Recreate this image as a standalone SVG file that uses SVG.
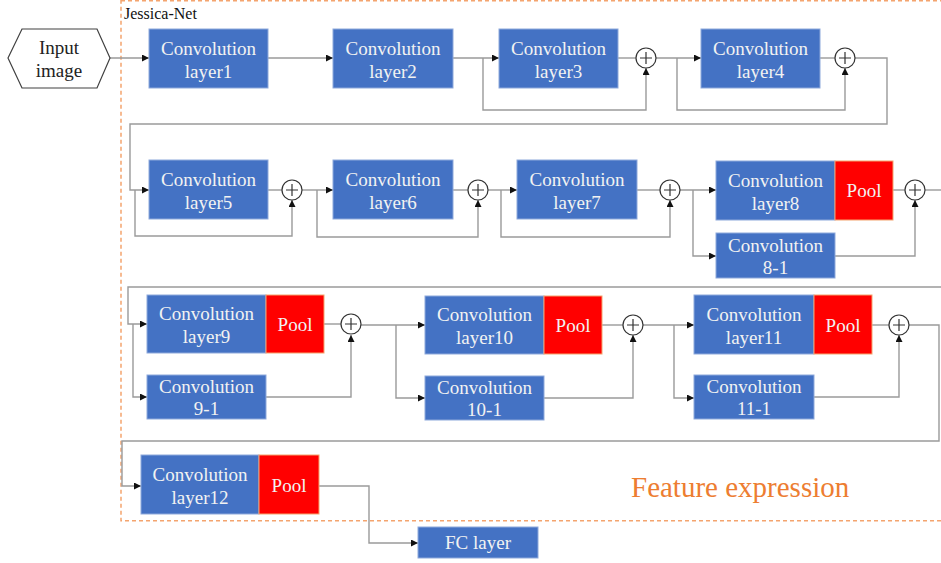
<svg xmlns="http://www.w3.org/2000/svg" width="941" height="563" viewBox="0 0 941 563">
  <style>
    .conv { fill: #4472C4; stroke: #8EA9DB; stroke-width: 1; }
    .pool { fill: #FF0000; stroke: #F4A46E; stroke-width: 1; }
    .serif { font-family: "Liberation Serif", "Times New Roman", Tinos, "DejaVu Serif", serif; }
    .lbl { font-family: "Liberation Serif", "Times New Roman", Tinos, "DejaVu Serif", serif; font-size: 19px; fill: #F2F2F2; text-anchor: middle; }
    .dark { fill: #222; }
    .wire { fill: none; stroke: #9A9A9A; stroke-width: 1.4; }
    .arr { marker-end: url(#ah); }
    .sum circle { fill: #fff; stroke: #333; stroke-width: 1.2; }
    .sum path { stroke: #333; stroke-width: 1.2; fill: none; }
  </style>
  <defs>
    <marker id="ah" viewBox="0 0 10 10" refX="10" refY="5" markerWidth="7" markerHeight="7" markerUnits="userSpaceOnUse" orient="auto">
      <path d="M0,0 L10,5 L0,10 z" fill="#111"/>
    </marker>
  </defs>

  <rect width="941" height="563" fill="#fff"/>

  <!-- outer dashed frame -->
  <g id="jessica-net">
    <rect x="121" y="0.8" width="822" height="520" fill="none" stroke="#F4A46E" stroke-width="1.5" stroke-dasharray="4 3"/>
    <text class="serif" x="124" y="19" font-size="16" fill="#111">Jessica-Net</text>
    <text class="serif" x="631" y="497" font-size="29" fill="#ED7D31">Feature expression</text>
  </g>

  <!-- connectors -->
  <g id="connectors">
    <path class="wire arr" d="M110,58 H149"/>
    <path class="wire arr" d="M268,58 H333"/>
    <path class="wire arr" d="M453,58 H499"/>
    <path class="wire arr" d="M483,58 V110 H646 V68"/>
    <path class="wire" d="M618,58 H636"/>
    <path class="wire arr" d="M656,58 H701"/>
    <path class="wire arr" d="M677,58 V110 H845 V68"/>
    <path class="wire" d="M820,58 H835"/>
    <path class="wire arr" d="M855,58 H887 V124 H130 V190 H149"/>
    <path class="wire arr" d="M135,190 V236 H292 V200"/>
    <path class="wire" d="M268,190 H282"/>
    <path class="wire arr" d="M302,190 H333"/>
    <path class="wire arr" d="M317,190 V237 H478 V200"/>
    <path class="wire" d="M453,190 H468"/>
    <path class="wire arr" d="M488,190 H517"/>
    <path class="wire arr" d="M501,190 V237 H670 V200"/>
    <path class="wire" d="M637,190 H660"/>
    <path class="wire arr" d="M680,190 H716"/>
    <path class="wire arr" d="M693,190 V256 H716"/>
    <path class="wire arr" d="M835,256 H915 V200"/>
    <path class="wire" d="M893,190 H905"/>
    <path class="wire" d="M925,190 H942"/>
    <path class="wire arr" d="M942,287 H128 V324 H147"/>
    <path class="wire arr" d="M133,324 V397 H147"/>
    <path class="wire" d="M324,324 H341"/>
    <path class="wire arr" d="M266,397 H351 V335"/>
    <path class="wire arr" d="M361,325 H425"/>
    <path class="wire arr" d="M396,325 V398 H425"/>
    <path class="wire" d="M602,325 H623"/>
    <path class="wire arr" d="M544,398 H633 V335"/>
    <path class="wire arr" d="M643,325 H694"/>
    <path class="wire arr" d="M674,325 V398 H694"/>
    <path class="wire" d="M872,325 H889"/>
    <path class="wire arr" d="M814,397 H899 V335"/>
    <path class="wire arr" d="M909,325 H939 V441 H122 V486 H141"/>
    <path class="wire arr" d="M319,486 H369 V543 H418"/>
  </g>

  <!-- input -->
  <g id="input-image">
    <polygon points="8,58 22,29 97,29 110,58 97,88 22,88" fill="#fff" stroke="#404040" stroke-width="1.2"/>
    <text class="lbl dark" x="59" y="54">Input</text>
    <text class="lbl dark" x="59" y="77">image</text>
  </g>

  <!-- row 1 -->
  <g id="conv1"><rect class="conv" x="149" y="29" width="119" height="59"/><text class="lbl" x="208.5" y="55">Convolution</text><text class="lbl" x="208.5" y="78">layer1</text></g>
  <g id="conv2"><rect class="conv" x="333" y="29" width="120" height="59"/><text class="lbl" x="393" y="55">Convolution</text><text class="lbl" x="393" y="78">layer2</text></g>
  <g id="conv3"><rect class="conv" x="499" y="29" width="119" height="59"/><text class="lbl" x="558.5" y="55">Convolution</text><text class="lbl" x="558.5" y="78">layer3</text></g>
  <g id="sum1" class="sum"><circle cx="646" cy="58" r="10"/><path d="M640,58 H652 M646,52 V64"/></g>
  <g id="conv4"><rect class="conv" x="701" y="29" width="119" height="59"/><text class="lbl" x="760.5" y="55">Convolution</text><text class="lbl" x="760.5" y="78">layer4</text></g>
  <g id="sum2" class="sum"><circle cx="845" cy="58" r="10"/><path d="M839,58 H851 M845,52 V64"/></g>

  <!-- row 2 -->
  <g id="conv5"><rect class="conv" x="149" y="160" width="119" height="59"/><text class="lbl" x="208.5" y="186">Convolution</text><text class="lbl" x="208.5" y="209">layer5</text></g>
  <g id="sum3" class="sum"><circle cx="292" cy="190" r="10"/><path d="M286,190 H298 M292,184 V196"/></g>
  <g id="conv6"><rect class="conv" x="333" y="160" width="120" height="59"/><text class="lbl" x="393" y="186">Convolution</text><text class="lbl" x="393" y="209">layer6</text></g>
  <g id="sum4" class="sum"><circle cx="478" cy="190" r="10"/><path d="M472,190 H484 M478,184 V196"/></g>
  <g id="conv7"><rect class="conv" x="517" y="160" width="120" height="59"/><text class="lbl" x="577" y="186">Convolution</text><text class="lbl" x="577" y="209">layer7</text></g>
  <g id="sum5" class="sum"><circle cx="670" cy="190" r="10"/><path d="M664,190 H676 M670,184 V196"/></g>
  <g id="conv8"><rect class="conv" x="716" y="161" width="119" height="59"/><text class="lbl" x="775.5" y="187">Convolution</text><text class="lbl" x="775.5" y="210">layer8</text></g>
  <g id="pool8"><rect class="pool" x="835" y="161" width="58" height="59"/><text class="lbl" x="864" y="197">Pool</text></g>
  <g id="conv8-1"><rect class="conv" x="716" y="233" width="119" height="45"/><text class="lbl" x="775.5" y="252">Convolution</text><text class="lbl" x="775.5" y="274">8-1</text></g>
  <g id="sum6" class="sum"><circle cx="915" cy="190" r="10"/><path d="M909,190 H921 M915,184 V196"/></g>

  <!-- row 3 -->
  <g id="conv9"><rect class="conv" x="147" y="295" width="119" height="58"/><text class="lbl" x="206.5" y="320">Convolution</text><text class="lbl" x="206.5" y="343">layer9</text></g>
  <g id="pool9"><rect class="pool" x="266" y="295" width="58" height="58"/><text class="lbl" x="295" y="331">Pool</text></g>
  <g id="conv9-1"><rect class="conv" x="147" y="375" width="119" height="44"/><text class="lbl" x="206.5" y="393">Convolution</text><text class="lbl" x="206.5" y="415">9-1</text></g>
  <g id="sum7" class="sum"><circle cx="351" cy="324" r="10"/><path d="M345,324 H357 M351,318 V330"/></g>
  <g id="conv10"><rect class="conv" x="425" y="296" width="119" height="58"/><text class="lbl" x="484.5" y="321">Convolution</text><text class="lbl" x="484.5" y="344">layer10</text></g>
  <g id="pool10"><rect class="pool" x="544" y="296" width="58" height="58"/><text class="lbl" x="573" y="332">Pool</text></g>
  <g id="conv10-1"><rect class="conv" x="425" y="376" width="119" height="44"/><text class="lbl" x="484.5" y="394">Convolution</text><text class="lbl" x="484.5" y="416">10-1</text></g>
  <g id="sum8" class="sum"><circle cx="633" cy="325" r="10"/><path d="M627,325 H639 M633,319 V331"/></g>
  <g id="conv11"><rect class="conv" x="694" y="295" width="120" height="59"/><text class="lbl" x="754" y="321">Convolution</text><text class="lbl" x="754" y="344">layer11</text></g>
  <g id="pool11"><rect class="pool" x="814" y="295" width="58" height="59"/><text class="lbl" x="843" y="332">Pool</text></g>
  <g id="conv11-1"><rect class="conv" x="694" y="375" width="120" height="44"/><text class="lbl" x="754" y="393">Convolution</text><text class="lbl" x="754" y="415">11-1</text></g>
  <g id="sum9" class="sum"><circle cx="899" cy="325" r="10"/><path d="M893,325 H905 M899,319 V331"/></g>

  <!-- row 4 -->
  <g id="conv12"><rect class="conv" x="141" y="455" width="118" height="59"/><text class="lbl" x="200" y="481">Convolution</text><text class="lbl" x="200" y="504">layer12</text></g>
  <g id="pool12"><rect class="pool" x="259" y="455" width="60" height="59"/><text class="lbl" x="289" y="492">Pool</text></g>
  <g id="fc"><rect class="conv" x="418" y="527" width="120" height="31"/><text class="lbl" x="478" y="549">FC layer</text></g>
</svg>
